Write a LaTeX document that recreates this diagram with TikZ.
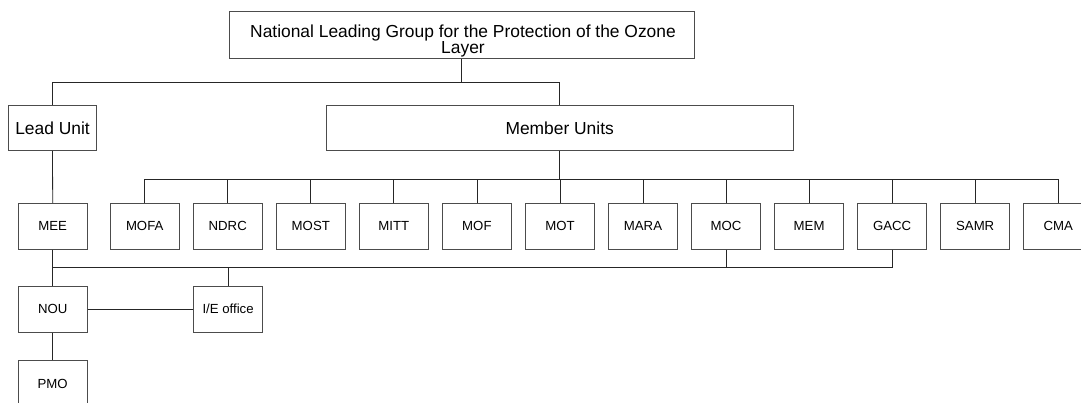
\documentclass[tikz,border=0pt]{standalone}
\usepackage{fontspec}
\setmainfont{Liberation Sans}
\begin{document}
\begin{tikzpicture}[x=1pt,y=-1pt,
  box/.style={draw=black!70,line width=0.8pt,rectangle,inner sep=0pt,align=center},
  bigtext/.style={font=\fontsize{17.4}{16}\selectfont},
  smalltext/.style={font=\fontsize{13.2}{15}\selectfont},
  unitbox/.style={box,smalltext,minimum width=69pt,minimum height=46pt},
  conn/.style={draw=black!85,line width=0.8pt}]
\useasboundingbox (0,0) rectangle (1081,403);
\clip (0,0) rectangle (1081,403);
% top
\node[box,minimum width=465pt,minimum height=47pt] (top) at (461.5,35) {};
\node[bigtext,align=center,inner sep=0pt] (toptext) at (463,41.5)
  {National Leading Group for the Protection of the Ozone\\Layer};
\node[box,bigtext,minimum width=88.4pt,minimum height=45.5pt] (lead) at (52.5,127.8) {Lead Unit};
\node[box,bigtext,minimum width=466.5pt,minimum height=45.5pt] (mem) at (559.7,127.8) {Member Units};
% rows
\node[unitbox] (mee) at (52.7,226.3) {MEE};
\foreach \n [count=\i from 0] in {MOFA,NDRC,MOST,MITT,MOF,MOT,MARA,MOC,MEM,GACC,SAMR,CMA}{
  \node[unitbox] (\n) at ({144.7+83.05*\i},226.3) {\n};
}
\node[unitbox] (nou) at (52.7,309.2) {NOU};
\node[unitbox] (ie) at (228.1,309.2) {I/E office};
\node[unitbox] (pmo) at (52.7,383.7) {PMO};
% bus coordinates
\coordinate (b1) at (462,82.3);
\coordinate (b2) at (560,179);
\coordinate (b3) at (52.7,267.7);
% connectors
\draw[conn] (top.south) -- (top.south |- b1);
\draw[conn] (lead.north) -- (lead.north |- b1) -- (mem.north |- b1) -- (mem.north);
\draw[conn] (mem.south) -- (mem.south |- b2);
\draw[conn] (MOFA.north |- b2) -- (CMA.north |- b2);
\foreach \n in {MOFA,NDRC,MOST,MITT,MOF,MOT,MARA,MOC,MEM,GACC,SAMR,CMA}{
  \draw[conn] (\n.north) -- (\n.north |- b2);
}
\draw[conn] (lead.south) -- (mee.north);
\draw[conn] (mee.south) -- (nou.north);
\draw[conn] (mee.south |- b3) -- (GACC.south |- b3);
\draw[conn] (MOC.south) -- (MOC.south |- b3);
\draw[conn] (GACC.south) -- (GACC.south |- b3);
\draw[conn] (ie.north |- b3) -- (ie.north);
\draw[conn] (nou.east) -- (ie.west);
\draw[conn] (nou.south) -- (pmo.north);
\end{tikzpicture}
\end{document}
